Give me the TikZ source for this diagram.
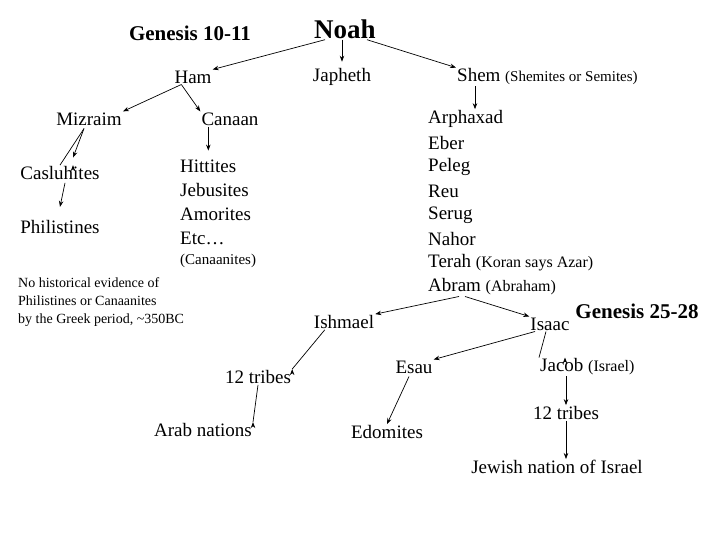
\documentclass[tikz,border=0pt]{standalone}
\usepackage{fontspec}
\setmainfont{Liberation Serif}
\usetikzlibrary{arrows.meta}
\begin{document}
\begin{tikzpicture}[x=1pt,y=-1pt,
  t/.style={inner sep=1pt,font=\fontsize{19}{21}\selectfont},
  sm/.style={font=\fontsize{15}{17}\selectfont},
  arr/.style={-{Stealth[length=6pt,width=4.5pt]},line width=0.7pt}]
\useasboundingbox (0,0) rectangle (720,540);
\node[t,font=\bfseries\fontsize{21}{23}\selectfont] (g1) at (190,33) {Genesis 10-11};
\node[t,font=\bfseries\fontsize{27}{29}\selectfont] (noah) at (345,29) {Noah};
\node[t] (ham) at (193,77) {Ham};
\node[t] (jap) at (342,77) {Japheth};
\node[t,anchor=west] (shem) at (456,77) {Shem {\fontsize{15}{17}\selectfont(Shemites or Semites)}};
\node[t] (miz) at (89,119) {Mizraim};
\node[t] (can) at (230,119) {Canaan};
\node[t] (cas) at (60,173) {Casluhites};
\node[t] (phi) at (60,227) {Philistines};
\node[t,anchor=west] (hit) at (179,166) {Hittites};
\node[t,anchor=west] (jeb) at (179,190) {Jebusites};
\node[t,anchor=west] (amo) at (179,214) {Amorites};
\node[t,anchor=west] (etc) at (179,238) {Etc…};
\node[t,anchor=west,sm] (cnn) at (179,261) {(Canaanites)};
\node[t,anchor=west] (arp) at (427,119) {Arphaxad};
\node[t,anchor=west] (ebe) at (427,143) {Eber};
\node[t,anchor=west] (pel) at (427,167) {Peleg};
\node[t,anchor=west] (reu) at (427,191) {Reu};
\node[t,anchor=west] (ser) at (427,215) {Serug};
\node[t,anchor=west] (nah) at (427,239) {Nahor};
\node[t,anchor=west] (ter) at (427,263) {Terah {\fontsize{16}{18}\selectfont(Koran says Azar)}};
\node[t,anchor=west] (abr) at (427,287) {Abram {\fontsize{16}{18}\selectfont(Abraham)}};
\node[t,anchor=north west,align=left,font=\fontsize{14}{18}\selectfont] (note) at (17,276) {No historical evidence of\\Philistines or Canaanites\\by the Greek period, \textasciitilde350BC};
\node[t,font=\bfseries\fontsize{21}{23}\selectfont] (g2) at (637,311) {Genesis 25-28};
\node[t] (ish) at (344,322) {Ishmael};
\node[t] (isa) at (550,324) {Isaac};
\node[t] (esa) at (414,367) {Esau};
\node[t,anchor=west] (jac) at (539,367) {Jacob {\fontsize{16}{18}\selectfont(Israel)}};
\node[t] (tr1) at (258,377) {12 tribes};
\node[t] (arab) at (203,430) {Arab nations};
\node[t] (edo) at (387,432) {Edomites};
\node[t] (tr2) at (566,413) {12 tribes};
\node[t] (jew) at (557,467) {Jewish nation of Israel};
% connectors
\draw[arr] (noah.south west) ++(12,0) coordinate (c1) -- (ham.north east);
\draw[arr] (noah.south) ++(-3,0) -- ++(0,22) coordinate (c2);
\draw[arr] (noah.south east) ++(-10,0) coordinate (c3) -- (shem.north west);
\draw[arr] (ham.south west) ++(8,0) coordinate (h1) -- (miz.north east);
\draw[arr] (h1) -- (can.north west);
\draw[arr] (can.south west) ++(8,0) coordinate (c4) -- ++(0,24);
\draw[arr] (miz.south) ++(-5,2) coordinate (m1) -- (cas.north) ++(13,0);
\draw[arr] (m1) -- ++(-11,29);
\draw[arr] (cas.south) ++(5,2) coordinate (k1) -- ++(-5,24);
\draw[arr] (shem.south west) ++(19,0) coordinate (s1) -- (arp.north west -| s1);
\draw[arr] (abr.south west) ++(32,0) coordinate (a1) -- (ish.north east);
\draw[arr] (a1) ++(6,0) coordinate (a2) -- (isa.north west);
\draw[arr] (ish.south west) ++(12,0) coordinate (i1) -- (tr1.north east) ++(-0,0);
\draw[arr] (tr1.south) -- (arab.north east) ++(0,0);
\draw[arr] (isa.south) ++(-15,0) coordinate (i2) -- (esa.north east);
\draw[arr] (i2) ++(11,0) coordinate (i3) -- (jac.north west) ++(26,0);
\draw[arr] (esa.south) ++(-5,2) -- (edo.north);
\draw[arr] (tr2.north |- jac.south) -- (tr2.north);
\draw[arr] (tr2.south) -- (jew.north -| tr2.south);
\end{tikzpicture}
\end{document}
